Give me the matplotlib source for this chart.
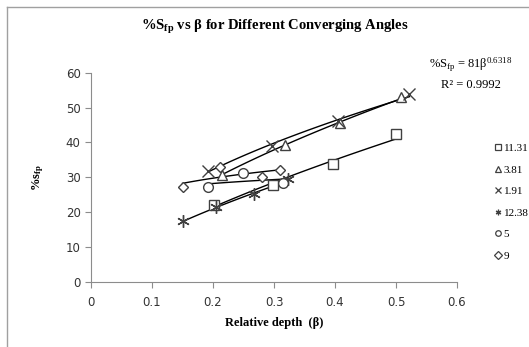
import numpy as np
import matplotlib
matplotlib.use("Agg")
import matplotlib.pyplot as plt
from matplotlib.lines import Line2D

# series: converging angle -> (beta, %Sfp)
labels = ["11.31", "3.81", "1.91", "12.38", "5", "9"]
x_1131 = [0.201, 0.299, 0.397, 0.500]
y_1131 = [22.0, 27.8, 33.8, 42.4]
x_381 = [0.214, 0.318, 0.408, 0.508]
y_381 = [30.8, 39.2, 45.5, 52.9]
x_191 = [0.192, 0.296, 0.405, 0.522]
y_191 = [31.9, 38.9, 46.2, 53.8]
x_1238 = [0.150, 0.2055, 0.268, 0.323]
y_1238 = [17.4, 21.4, 25.1, 29.4]
x_5 = [0.192, 0.249, 0.315]
y_5 = [27.1, 31.2, 28.3]
x_9 = [0.150, 0.211, 0.281, 0.310]
y_9 = [27.1, 33.0, 30.0, 32.2]

xs = [x_1131, x_381, x_191, x_1238, x_5, x_9]
ys = [y_1131, y_381, y_191, y_1238, y_5, y_9]
markers = ["s", "^", "x", (6, 2, 0), "o", "D"]
sizes = [7, 7, 8, 9, 7, 5.5]

plt.rcParams["mathtext.fontset"] = "custom"
plt.rcParams["mathtext.rm"] = "Liberation Serif"
plt.rcParams["mathtext.it"] = "Liberation Serif:italic"
plt.rcParams["mathtext.bf"] = "Liberation Serif:bold"

serif = ["Liberation Serif", "DejaVu Serif"]
edge = "#404040"

fig = plt.figure(figsize=(5.29, 3.47), dpi=100)
ax = fig.add_axes([0.172, 0.1873, 0.692, 0.6032])

for x, y, m, s in zip(xs, ys, markers, sizes):
    x = np.array(x)
    y = np.array(y)
    # power trendline (Excel style)
    b, a = np.polyfit(np.log(x), np.log(y), 1)
    xf = np.linspace(x.min(), x.max(), 100)
    ax.plot(xf, np.exp(a) * xf ** b, color="black", lw=1.0, zorder=2)
    ax.plot(x, y, ls="none", marker=m, ms=s, mfc="white" if m != "x" else "none",
            mec=edge, mew=1.0, zorder=3)

ax.set_xlim(0, 0.6)
ax.set_ylim(0, 60)
ax.set_xticks(np.arange(0, 0.61, 0.1))
ax.set_xticklabels(["0", "0.1", "0.2", "0.3", "0.4", "0.5", "0.6"])
ax.set_yticks(range(0, 61, 10))
for s in ["top", "right"]:
    ax.spines[s].set_visible(False)
for s in ["left", "bottom"]:
    ax.spines[s].set_color("#8c8c8c")
ax.tick_params(colors="#8c8c8c", labelcolor="#333333", labelsize=8.5, length=4, direction="out")
ax.tick_params(axis="x", pad=6)

ax.set_xlabel("Relative depth  (\u03b2)", fontfamily=serif, fontweight="bold", fontsize=9, labelpad=6)
ax.set_ylabel("%s$_{\\mathbf{fp}}$", fontfamily=serif, fontweight="bold", fontsize=9, labelpad=14)

fig.text(0.52, 0.922, "%S$_{\\mathbf{fp}}$ vs \u03b2 for Different Converging Angles",
         ha="center", va="center", fontfamily=serif, fontweight="bold", fontsize=10.5)

fig.text(0.89, 0.812, "%S$_{\\mathrm{fp}}$ = 81\u03b2$^{\\mathrm{0.6318}}$", ha="center", va="center",
         fontfamily=serif, fontsize=9)
fig.text(0.89, 0.755, "R\u00b2 = 0.9992", ha="center", va="center", fontfamily=serif, fontsize=9)

handles = [Line2D([], [], ls="none", marker=m, ms=4, mfc="none", mec=edge, mew=0.9)
           for m in markers]
fig.legend(handles, labels, loc="upper left", bbox_to_anchor=(0.912, 0.615), frameon=False,
           handletextpad=0.0, handlelength=1.0, labelspacing=1.05,
           prop={"family": serif, "size": 8})

# chart border (left and top visible)
fig.add_artist(Line2D([0.013, 0.013], [0, 0.98], transform=fig.transFigure, color="#a0a0a0", lw=1))
fig.add_artist(Line2D([0.013, 1], [0.98, 0.98], transform=fig.transFigure, color="#a0a0a0", lw=1))

fig.savefig("out.png", dpi=100)
